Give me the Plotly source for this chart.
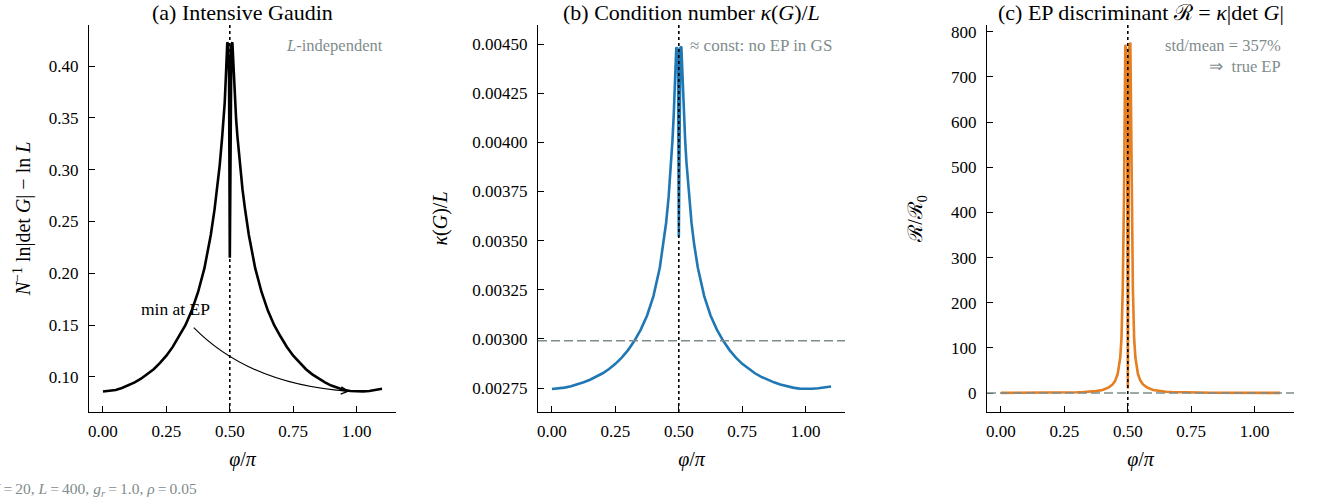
import plotly.graph_objects as go

# ---------------- data ----------------
phi = [0.0, 0.025, 0.05, 0.075, 0.1, 0.125, 0.15, 0.175, 0.2, 0.225, 0.25, 0.275,
       0.3, 0.325, 0.35, 0.375, 0.4, 0.425, 0.44, 0.45, 0.46, 0.47, 0.475, 0.48,
       0.485, 0.49, 0.494, 0.497, 0.5, 0.503, 0.506, 0.51, 0.515, 0.52, 0.525,
       0.53, 0.54, 0.55, 0.56, 0.575, 0.6, 0.625, 0.65, 0.675, 0.7, 0.725, 0.75,
       0.775, 0.8, 0.825, 0.85, 0.875, 0.9, 0.925, 0.95, 0.975, 1.0, 1.025, 1.05,
       1.075, 1.1]

gaudin = [0.0860, 0.0864, 0.0875, 0.0893, 0.0917, 0.0947, 0.0983, 0.1025, 0.1075,
          0.1135, 0.1205, 0.1290, 0.1390, 0.150, 0.164, 0.182, 0.205, 0.237, 0.262,
          0.281, 0.304, 0.332, 0.348, 0.365, 0.393, 0.423, 0.420, 0.390,
          0.215,
          0.390, 0.420, 0.423, 0.393, 0.365, 0.348, 0.332, 0.304, 0.281, 0.262,
          0.237, 0.205, 0.182, 0.164, 0.150, 0.1390, 0.1290, 0.1205, 0.1135, 0.1075,
          0.1025, 0.0983, 0.0947, 0.0917, 0.0893, 0.0875, 0.0864, 0.0860,
          0.0861, 0.0865, 0.0874, 0.0887]

kappa_L = [0.002745, 0.002747, 0.002752, 0.002759, 0.002768, 0.002779, 0.002792,
           0.002807, 0.002825, 0.002847, 0.002873, 0.002905, 0.002943, 0.002990,
           0.003047, 0.003119, 0.003218, 0.003362, 0.003485, 0.003591, 0.003725,
           0.003900, 0.004010, 0.004140, 0.004295, 0.004482, 0.004478, 0.004440,
           0.003520,
           0.004440, 0.004480, 0.004487, 0.004295, 0.004140, 0.004010, 0.003900,
           0.003725, 0.003591, 0.003485, 0.003362, 0.003218, 0.003119, 0.003047,
           0.002990, 0.002943, 0.002905, 0.002873, 0.002847, 0.002825, 0.002807,
           0.002792, 0.002779, 0.002768, 0.002759, 0.002752, 0.002747, 0.002745,
           0.002746, 0.002749, 0.002753, 0.002758]

discrim = [0.38, 0.39, 0.41, 0.44, 0.48, 0.53, 0.60, 0.68, 0.78, 0.92, 1.1, 1.35,
           1.7, 2.2, 3.0, 4.3, 6.8, 12.5, 19.0, 27.0, 42.0, 78.0, 120.0, 230.0,
           435.0, 771.0, 760.0, 700.0,
           10.0,
           700.0, 765.0, 776.0, 435.0, 230.0, 120.0, 78.0, 42.0, 27.0, 19.0, 12.5,
           6.8, 4.3, 3.0, 2.2, 1.7, 1.35, 1.1, 0.92, 0.78, 0.68, 0.60, 0.53, 0.48,
           0.44, 0.41, 0.39, 0.38,
           0.38, 0.39, 0.40, 0.41]

kappa_ref = 0.00299      # dashed reference in (b)
discrim_ref = 0.0        # dashed reference in (c)
phi_ep = 0.5             # exceptional point

x_ticks = [0.0, 0.25, 0.5, 0.75, 1.0]
x_ticktext = ["0.00", "0.25", "0.50", "0.75", "1.00"]
ya_ticks = [0.10, 0.15, 0.20, 0.25, 0.30, 0.35, 0.40]
yb_ticks = [0.00275, 0.00300, 0.00325, 0.00350, 0.00375, 0.00400, 0.00425, 0.00450]
yc_ticks = [0, 100, 200, 300, 400, 500, 600, 700, 800]

# ---------------- styling ----------------
W, H = 1320, 504
SERIF = "Liberation Serif"
GRAY = "#7f8c8d"
BLUE = "#1f77b4"
ORANGE = "#e67e22"

top_px, bot_px = 25, 412
panels_px = [(89, 396), (538, 845), (987, 1294)]
ydom = [(H - bot_px) / H, (H - top_px) / H]

fig = go.Figure()

fig.add_trace(go.Scatter(x=phi, y=gaudin, mode="lines",
                         line=dict(color="black", width=2.6), xaxis="x", yaxis="y",
                         showlegend=False, hoverinfo="skip"))
fig.add_trace(go.Scatter(x=phi, y=kappa_L, mode="lines",
                         line=dict(color=BLUE, width=2.6), xaxis="x2", yaxis="y2",
                         showlegend=False, hoverinfo="skip"))
fig.add_trace(go.Scatter(x=phi, y=discrim, mode="lines",
                         line=dict(color=ORANGE, width=2.6), xaxis="x3", yaxis="y3",
                         showlegend=False, hoverinfo="skip"))

tickfont = dict(family=SERIF, size=17, color="black")
titlefont = dict(family=SERIF, size=20, color="black")


def xax(i):
    l, r = panels_px[i]
    return dict(domain=[l / W, r / W], range=[-0.055, 1.155], anchor=["y", "y2", "y3"][i],
                tickvals=x_ticks, ticktext=x_ticktext, ticks="inside", ticklen=6,
                tickwidth=1.2, tickcolor="black", showline=True, linecolor="black",
                linewidth=1.3, showgrid=False, zeroline=False, tickfont=tickfont,
                title=dict(text="<i>φ</i>/<i>π</i>", font=titlefont, standoff=12),
                automargin=False, ticklabelstandoff=3)


def yax(i, rng, ticks, fmt, title, standoff):
    return dict(domain=ydom, range=rng, anchor=["x", "x2", "x3"][i],
                tickvals=ticks, tickformat=fmt, ticks="inside", ticklen=6,
                tickwidth=1.2, tickcolor="black", showline=True, linecolor="black",
                linewidth=1.3, showgrid=False, zeroline=False, tickfont=tickfont,
                title=dict(text=title, font=titlefont, standoff=standoff),
                automargin=False, ticklabelstandoff=6)


fig.update_layout(
    width=W, height=H, margin=dict(l=0, r=0, t=0, b=0),
    paper_bgcolor="white", plot_bgcolor="white",
    xaxis=xax(0), xaxis2=xax(1), xaxis3=xax(2),
    yaxis=yax(0, [0.0662, 0.4396], ya_ticks, ".2f",
              "<i>N</i><sup>−1</sup> ln|det <i>G</i>| − ln <i>L</i>", 12),
    yaxis2=yax(1, [0.002628, 0.004597], yb_ticks, ".5f", "<i>κ</i>(<i>G</i>)/<i>L</i>", 19),
    yaxis3=yax(2, [-42, 815], yc_ticks, "d", "ℛ/ℛ<sub>0</sub>", 22),
    font=dict(family=SERIF, color="black"),
)

# EP markers (dotted verticals) and dashed references
shapes = []
for xr, yr in [("x", "y"), ("x2", "y2"), ("x3", "y3")]:
    shapes.append(dict(type="line", xref=xr, yref=yr + " domain", x0=phi_ep, x1=phi_ep,
                       y0=0, y1=1, line=dict(color="black", width=1.6, dash="dot"),
                       layer="above"))
shapes.append(dict(type="line", xref="x2 domain", yref="y2", x0=0, x1=1,
                   y0=kappa_ref, y1=kappa_ref,
                   line=dict(color=GRAY, width=1.5, dash="9px,4px")))
shapes.append(dict(type="line", xref="x3 domain", yref="y3", x0=0, x1=1,
                   y0=discrim_ref, y1=discrim_ref,
                   line=dict(color=GRAY, width=1.5, dash="9px,4px")))

# curved arrow "min at EP"
arr_start = (0.358, 0.1476)
arr_ctrl = (0.58, 0.0923)
arr_end = (0.973, 0.0862)
shapes.append(dict(type="path", xref="x", yref="y",
                   path=f"M {arr_start[0]},{arr_start[1]} Q {arr_ctrl[0]},{arr_ctrl[1]} {arr_end[0]},{arr_end[1]}",
                   line=dict(color="black", width=1.1)))
fig.update_layout(shapes=shapes)

ann = []
titles = ["(a) Intensive Gaudin",
          "(b) Condition number <i>κ</i>(<i>G</i>)/<i>L</i>",
          "(c) EP discriminant ℛ = <i>κ</i>|det <i>G</i>|"]
for (l, r), t in zip(panels_px, titles):
    ann.append(dict(text=t, xref="paper", yref="paper", x=(l + r) / 2 / W, y=1 - 12 / H,
                    xanchor="center", yanchor="middle", showarrow=False,
                    font=dict(family=SERIF, size=22, color="black")))

note_font = dict(family=SERIF, size=16.5, color=GRAY)
ann.append(dict(text="<i>L</i>-independent", xref="x domain", yref="y domain",
                x=0.965, y=0.946, xanchor="right", yanchor="middle", showarrow=False,
                font=note_font))
ann.append(dict(text="≈ const: no EP in GS", xref="x2 domain", yref="y2 domain",
                x=0.965, y=0.946, xanchor="right", yanchor="middle", showarrow=False,
                font=dict(family=SERIF, size=17, color=GRAY)))
ann.append(dict(text="std/mean = 357%<br>⇒  true EP", xref="x3 domain", yref="y3 domain",
                x=0.965, y=0.92, xanchor="right", yanchor="middle", showarrow=False,
                align="right", font=note_font))

ann.append(dict(text="min at EP", xref="x", yref="y", x=0.284, y=0.1656,
                xanchor="center", yanchor="middle", showarrow=False,
                font=dict(family=SERIF, size=17.5, color="black")))
ann.append(dict(text="", xref="x", yref="y", x=arr_end[0], y=arr_end[1],
                ax=-12, ay=-1, showarrow=True, arrowhead=5, arrowsize=1.3,
                arrowwidth=1.1, arrowcolor="black"))

ann.append(dict(text="<i>N</i>\u2009=\u200920, <i>L</i>\u2009=\u2009400, "
                     "<i>g<sub>r</sub></i>\u2009=\u20091.0, <i>ρ</i>\u2009=\u20090.05",
                xref="paper", yref="paper", x=-13 / W, y=(H - 489) / H,
                xanchor="left", yanchor="middle", showarrow=False,
                font=dict(family=SERIF, size=15.5, color=GRAY)))
fig.update_layout(annotations=ann)

fig.write_html("out.html", config={"displayModeBar": False},
               post_script="document.body.style.margin='0';")
